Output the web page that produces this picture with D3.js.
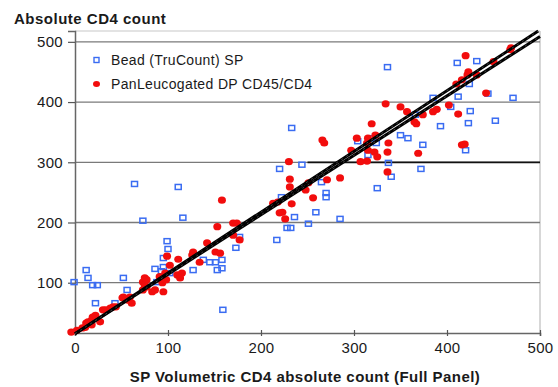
<!DOCTYPE html>
<html><head><meta charset="utf-8">
<script src="https://cdn.jsdelivr.net/npm/d3@7"></script>
<style>
body{margin:0;background:#fff;}
text{font-family:"Liberation Sans",Arial,sans-serif;fill:#1a1a1a;}
</style></head>
<body><svg id="c" width="558" height="387"></svg>
<script>
// ---- data ----
const xTicks = [0, 100, 200, 300, 400, 500];
const yTicks = [100, 200, 300, 400, 500];
const seriesNames = ["Bead (TruCount) SP", "PanLeucogated DP CD45/CD4"];
const beadPoints = [
 [64,264],[111,259],[73,203],[116,208],[99,169],[100,156],[95,141],[138,138],[145,134],[151,134],
 [158,138],[153,121],[127,121],[95,126],[86,123],[102,116],[88,101],[56,88],[52,108],[12,121],
 [14,108],[19,96],[24,96],[-1,101],[22,66],[43,66],[159,55],[93,119],[325,257],[270,249],
 [270,242],[222,242],[259,217],[236,209],[285,206],[251,198],[228,191],[232,191],[217,171],[177,176],
 [173,158],[158,124],[233,357],[220,289],[244,296],[336,458],[324,332],[320,340],[304,335],[350,345],
 [358,340],[374,329],[420,320],[315,312],[337,299],[372,289],[340,276],[411,465],[432,468],[424,430],
 [444,414],[471,407],[412,409],[385,407],[404,392],[366,379],[425,385],[393,360],[423,365],[452,369],
 [265,267]
];
const panPoints = [
 [-4,18],[2,21],[8,25],[11,26],[12,33],[14,35],[18,38],[18,30],[19,43],[22,46],
 [27,35],[30,55],[33,55],[38,58],[44,60],[41,60],[51,75],[52,76],[57,71],[59,76],
 [61,66],[73,101],[75,108],[75,96],[77,93],[73,88],[77,105],[83,85],[86,88],[95,85],
 [91,110],[94,100],[97,116],[98,105],[110,113],[115,116],[113,108],[102,129],[99,144],[111,139],
 [127,151],[126,146],[134,134],[142,166],[151,151],[153,193],[158,237],[156,149],[170,199],[174,199],
 [170,179],[177,171],[213,232],[218,234],[233,231],[223,217],[220,216],[226,206],[248,254],[251,266],
 [231,259],[256,241],[231,272],[271,271],[285,274],[230,301],[266,337],[268,332],[303,340],[315,340],
 [323,345],[319,364],[314,332],[315,320],[297,320],[307,301],[322,317],[325,309],[337,332],[336,317],
 [336,284],[314,302],[369,315],[416,329],[419,330],[334,397],[350,392],[357,384],[374,379],[385,384],
 [389,388],[365,367],[367,364],[402,395],[412,380],[420,477],[469,490],[468,487],[450,467],[423,450],
 [422,445],[416,437],[410,430],[432,445],[442,415]
];
// fitted lines: [intercept, slope]
const fitLines = [[15.4, 1.009], [15.4, 0.987]];
const thresholdLine = [[250, 300], [500, 300]];

// ---- drawing ----
const svg = d3.select("#c");
const x = d3.scaleLinear().domain([0, 500]).range([75, 540]);
const y = d3.scaleLinear().domain([16.5, 518]).range([333, 31]);
const xMin = 0, xMax = 500;

// plot frame
svg.append("line").attr("x1", x(xMin)).attr("x2", x(xMax)).attr("y1", y(518)).attr("y2", y(518))
  .attr("stroke", "#c8c8c8").attr("stroke-width", 1.2);
svg.append("line").attr("x1", x(xMax)).attr("x2", x(xMax)).attr("y1", y(518)).attr("y2", y(16.5))
  .attr("stroke", "#bdbdbd").attr("stroke-width", 1.2);

// gridlines
svg.append("g").selectAll("line").data(yTicks).join("line")
  .attr("x1", x(xMin)).attr("x2", x(xMax))
  .attr("y1", d => y(d)).attr("y2", d => y(d))
  .attr("stroke", "#7a7a7a").attr("stroke-width", 1.3);
svg.append("line")
  .attr("x1", x(thresholdLine[0][0])).attr("x2", x(thresholdLine[1][0]))
  .attr("y1", y(thresholdLine[0][1])).attr("y2", y(thresholdLine[1][1]))
  .attr("stroke", "#111").attr("stroke-width", 1.8);

// axes
const yAxis = svg.append("g").attr("transform", `translate(${x(0)},0)`)
  .call(d3.axisLeft(y).tickValues(yTicks).tickSize(7).tickPadding(5));
const xAxis = svg.append("g").attr("transform", `translate(0,${y(16.5)})`)
  .call(d3.axisBottom(x).tickValues(xTicks).tickSize(3).tickPadding(6));
[yAxis, xAxis].forEach(g => {
  g.select(".domain").attr("stroke", "#666").attr("stroke-width", 1.5);
  g.selectAll(".tick line").attr("stroke", "#555").attr("stroke-width", 1.2);
  g.selectAll(".tick text").attr("font-size", 15).attr("fill", "#1a1a1a")
    .attr("letter-spacing", 0.3).style("font-family", '"Liberation Sans",Arial,sans-serif');
});
xAxis.selectAll(".tick line").attr("y1", -3);

// blue squares
svg.append("g").selectAll("rect").data(beadPoints).join("rect")
  .attr("x", d => x(d[0]) - 3).attr("y", d => y(d[1]) - 2.5)
  .attr("width", 6).attr("height", 5)
  .attr("fill", "none").attr("stroke", "#3a6cf2").attr("stroke-width", 1.5);

// red dots
svg.append("g").selectAll("ellipse").data(panPoints).join("ellipse")
  .attr("cx", d => x(d[0])).attr("cy", d => y(d[1]))
  .attr("rx", 4).attr("ry", 3.6).attr("fill", "#f20d0d");

// fitted lines
const lineGen = d3.line().x(d => x(d[0])).y(d => y(d[1]));
fitLines.forEach(([a, b]) => {
  const xEnd = Math.min(xMax, (518 - a) / b);
  const pts = [[0, a], [xEnd, a + b * xEnd]];
  svg.append("path").attr("d", lineGen(pts)).attr("stroke", "#000").attr("stroke-width", 3).attr("fill", "none");
  svg.append("path").attr("d", lineGen(pts)).attr("stroke", "#fff").attr("stroke-width", 0.6)
    .attr("stroke-dasharray", "2,4").attr("opacity", 0.45).attr("fill", "none");
});

// legend
const legend = svg.append("g");
legend.append("rect").attr("x", 94).attr("y", 57.5).attr("width", 5).attr("height", 5)
  .attr("fill", "none").attr("stroke", "#3a6cf2").attr("stroke-width", 1.4);
legend.append("ellipse").attr("cx", 96.5).attr("cy", 84).attr("rx", 3.5).attr("ry", 3).attr("fill", "#f20d0d");
legend.selectAll("text").data(seriesNames).join("text")
  .attr("x", 111).attr("y", (d, i) => 65 + i * 24)
  .attr("font-size", 14).attr("letter-spacing", 0.35).text(d => d);

// titles
svg.append("text").attr("x", 14).attr("y", 24).attr("font-size", 15).attr("font-weight", "bold")
  .attr("letter-spacing", 0.5).text("Absolute CD4 count");
svg.append("text").attr("x", 305).attr("y", 382).attr("text-anchor", "middle")
  .attr("font-size", 15).attr("font-weight", "bold").attr("letter-spacing", 0.45)
  .text("SP Volumetric CD4 absolute count (Full Panel)");
</script></body></html>
